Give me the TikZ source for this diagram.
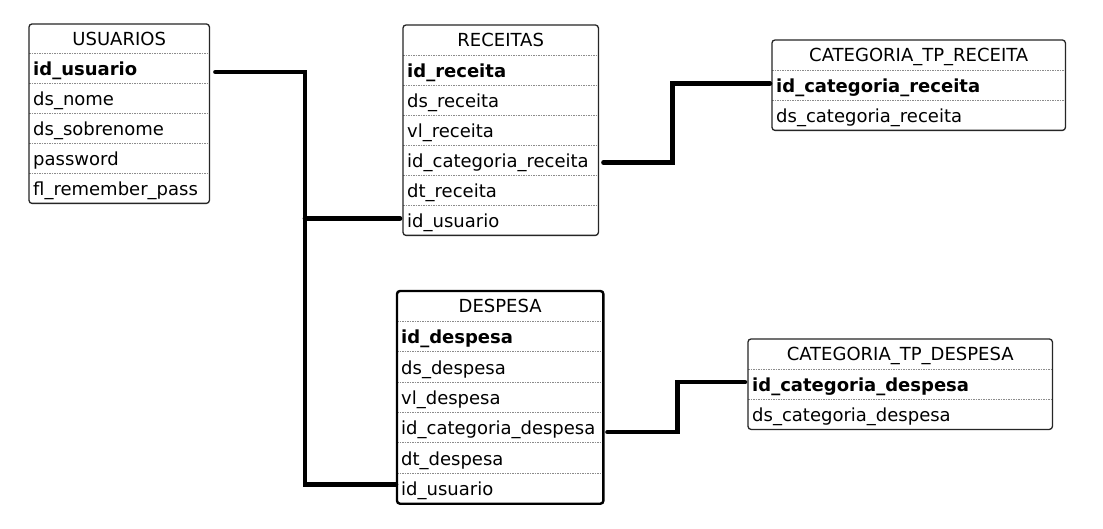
\documentclass[tikz,border=0pt]{standalone}
\usepackage{fontspec}
\setmainfont{DejaVu Sans}
\tikzset{
  fnt/.style={font=\fontsize{18}{21}\selectfont},
  hdr/.style={fnt, inner sep=0pt, text height=16.5pt, text depth=3.5pt, align=center},
  fld/.style={fnt, inner xsep=4pt, inner ysep=0pt, text height=17pt, text depth=3pt, align=left},
  sep/.style={draw=black!45, line width=0.8pt, dash pattern=on 1.5pt off 1pt},
  tbl/.style={draw=black!85, line width=1.3pt, rounded corners=3pt},
  tblsel/.style={draw=black, line width=2.4pt, rounded corners=3pt},
  conn/.style={draw=black, line width=4.5pt, line cap=round, line join=miter}
}
\newcommand\mktable[7]{%
  \node[hdr, minimum width=#4pt, minimum height=#5pt, anchor=north west] (#1-0) at (#2,#3) {#6};
  \pgfmathsetmacro\tw{#4-8}%
  \foreach \f [count=\i] in {#7}{%
    \node[fld, text width=\tw pt, minimum height=#5pt, anchor=north west] (#1-\i) at (#2,{#3+\i*#5}) {\f};
    \draw[sep] (#1-\i.north west) -- (#1-\i.north east);
  }%
}
\begin{document}
\begin{tikzpicture}[x=1pt,y=-1pt]
\useasboundingbox (0,0) rectangle (1103,529);
\fill[white] (0,0) rectangle (1103,529);

\mktable{u}{29}{24}{180}{29.83}{USUARIOS}{\textbf{id\_usuario},ds\_nome,ds\_sobrenome,password,fl\_remember\_pass}
\draw[tbl] (u-0.north west) rectangle (u-5.south east);

\mktable{r}{403}{25}{195}{30}{RECEITAS}{\textbf{id\_receita},ds\_receita,vl\_receita,id\_categoria\_receita,dt\_receita,id\_usuario}
\draw[tbl] (r-0.north west) rectangle (r-6.south east);

\mktable{cr}{772}{40}{293}{30}{CATEGORIA\_TP\_RECEITA}{\textbf{id\_categoria\_receita},ds\_categoria\_receita}
\draw[tbl] (cr-0.north west) rectangle (cr-2.south east);

\mktable{d}{397}{291}{206}{30.33}{DESPESA}{\textbf{id\_despesa},ds\_despesa,vl\_despesa,id\_categoria\_despesa,dt\_despesa,id\_usuario}
\draw[tblsel] (d-0.north west) rectangle (d-6.south east);

\mktable{cd}{748}{339}{304}{30}{CATEGORIA\_TP\_DESPESA}{\textbf{id\_categoria\_despesa},ds\_categoria\_despesa}
\draw[tbl] (cd-0.north west) rectangle (cd-2.south east);

% connectors
\coordinate (ua) at ([xshift=6pt,yshift=-3pt]u-1.east);
\coordinate (uj) at ([xshift=89.5pt]ua);
\coordinate (re) at ([xshift=-3pt,yshift=1.7pt]r-6.west);
\coordinate (de) at ([xshift=-1pt,yshift=4pt]d-6.west);
\draw[conn] (ua) -- (uj) |- (de);
\draw[conn] (uj |- re) -- (re);

\draw[conn] ([xshift=5pt,yshift=-2.3pt]r-4.east) -- ++(69,0) |- ([xshift=-2pt,yshift=1.7pt]cr-1.west);
\draw[conn] ([xshift=4pt,yshift=-4.5pt]d-4.east) -- ++(70,0) |- ([xshift=-3pt,yshift=2pt]cd-1.west);
\end{tikzpicture}
\end{document}
